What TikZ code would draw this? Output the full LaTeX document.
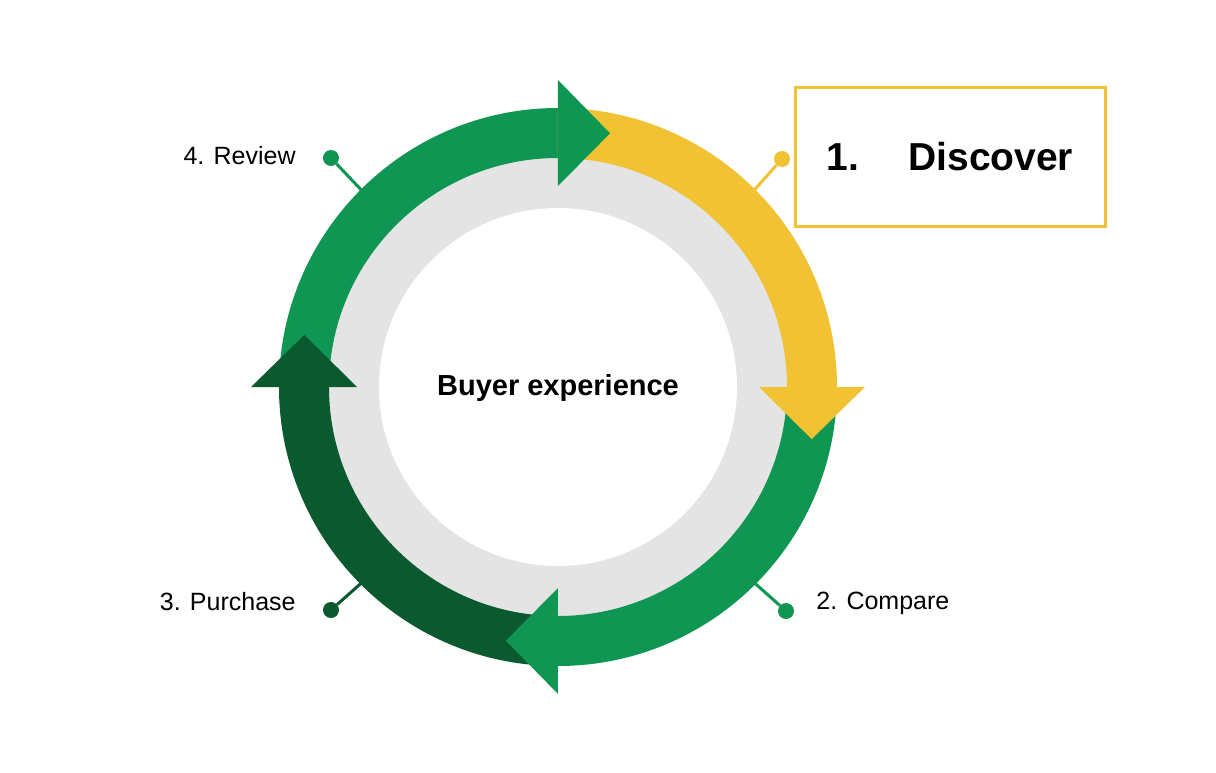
\documentclass[tikz,border=0pt]{standalone}
\usepackage{fontspec}
\setmainfont{Liberation Sans}
\usepackage{tikz}
\usetikzlibrary{positioning}
\definecolor{bxgreen}{RGB}{15,150,83}
\definecolor{bxdark}{RGB}{10,89,47}
\definecolor{bxyellow}{RGB}{240,194,52}
\definecolor{bxgray}{RGB}{228,228,228}
\tikzstyle{dot} = [circle, inner sep=0pt, minimum size=16pt]
\tikzstyle{stem} = [line width=3pt]
\tikzstyle{phase} = [inner sep=0pt, font=\fontsize{25}{30}\selectfont]

\begin{document}
\begin{tikzpicture}[x=1pt, y=1pt]
\useasboundingbox (-558,-385) rectangle (658,387);

% Gray ring
\fill[bxgray] (0,0) circle (232);
\fill[white] (0,0) circle (179);

% Callout stems
\coordinate (p1) at (45:270);
\coordinate (p2) at (-45:270);
\coordinate (p3) at (-135:270);
\coordinate (p4) at (135:270);
\node[dot, fill=bxyellow] (d1) at (224,228) {};
\node[dot, fill=bxgreen] (d2) at (228,-224) {};
\node[dot, fill=bxdark] (d3) at (-227,-223) {};
\node[dot, fill=bxgreen] (d4) at (-227,229) {};
\draw[stem, bxyellow] (p1) -- (d1);
\draw[stem, bxgreen] (p2) -- (d2);
\draw[stem, bxdark] (p3) -- (d3);
\draw[stem, bxgreen] (p4) -- (d4);

% Arrow bodies
\foreach \a/\col in {180/bxgreen, 90/bxyellow, 0/bxgreen, -90/bxdark}
  \fill[\col] (\a:279) arc[start angle=\a, delta angle=-90, radius=279]
    -- ({\a-90}:229) arc[start angle={\a-90}, delta angle=90, radius=229] -- cycle;

% Arrow heads
\foreach \b/\col in {90/bxgreen, 0/bxyellow, -90/bxgreen, 180/bxdark}
  \fill[\col] (\b:201) -- (\b:307) -- ({\b-11.6}:259) -- cycle;

% Labels
\node[font=\fontsize{29}{35}\selectfont\bfseries] (title) at (0,-1) {Buyer experience};
\node[phase, left=27pt of d4, yshift=2pt] (review) {4. Review};
\node[phase, left=27pt of d3, yshift=8pt] (purchase) {3. Purchase};
\node[phase, right=22pt of d2, yshift=8pt] (compare) {2. Compare};
\node[draw=bxyellow, line width=3pt, minimum width=310pt, minimum height=138pt,
  font=\fontsize{39}{46}\selectfont\bfseries] (discover) at (392,230) {1.\hspace{49pt}Discover};
\end{tikzpicture}
\end{document}
